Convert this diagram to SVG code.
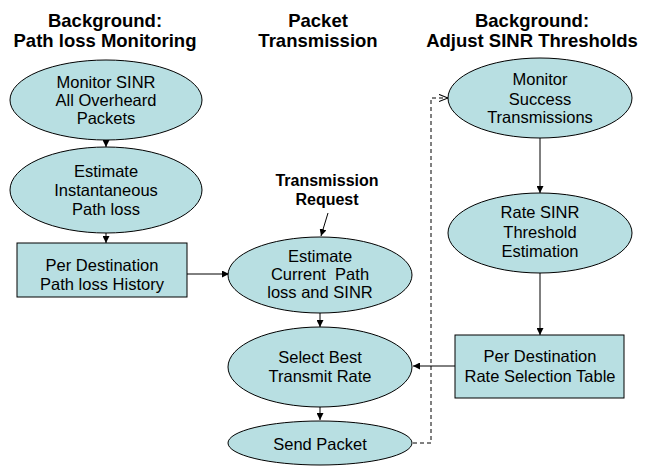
<svg xmlns="http://www.w3.org/2000/svg" width="651" height="466" viewBox="0 0 651 466">
  <style>
    .node { fill: #b8dfe2; stroke: #000; stroke-width: 1; }
    .lbl { font-family: "Liberation Sans", Arial, sans-serif; font-size: 16.5px; fill: #000; text-anchor: middle; }
    .hdr { font-family: "Liberation Sans", Arial, sans-serif; font-size: 18.5px; font-weight: bold; fill: #000; text-anchor: middle; }
    .req { font-family: "Liberation Sans", Arial, sans-serif; font-size: 16px; font-weight: bold; fill: #000; text-anchor: middle; }
    .edge { fill: none; stroke: #000; stroke-width: 1; }
    .dash { fill: none; stroke: #000; stroke-width: 1; stroke-dasharray: 4 3; }
  </style>
  <defs>
    <marker id="arrow" viewBox="0 0 10 10" refX="10" refY="5" markerWidth="7" markerHeight="7" orient="auto" markerUnits="userSpaceOnUse">
      <path d="M0,0 L10,5 L0,10 z" fill="#000"/>
    </marker>
    <marker id="open" viewBox="0 0 10 10" refX="10" refY="5" markerWidth="9" markerHeight="9" orient="auto" markerUnits="userSpaceOnUse">
      <path d="M0,1 L10,5 L0,9" fill="none" stroke="#000" stroke-width="1.2"/>
    </marker>
  </defs>

  <!-- column headings -->
  <g id="headings">
    <text class="hdr" x="105" y="27">Background:</text>
    <text class="hdr" x="105" y="47">Path loss Monitoring</text>
    <text class="hdr" x="318" y="27">Packet</text>
    <text class="hdr" x="318" y="47">Transmission</text>
    <text class="hdr" x="532" y="27">Background:</text>
    <text class="hdr" x="532" y="47">Adjust SINR Thresholds</text>
  </g>

  <!-- connectors -->
  <g id="connectors">
    <line class="edge" x1="106" y1="140" x2="106" y2="147" marker-end="url(#arrow)"/>
    <line class="edge" x1="106" y1="233" x2="106" y2="243" marker-end="url(#arrow)"/>
    <line class="edge" x1="187" y1="274" x2="229" y2="274" marker-end="url(#arrow)"/>
    <line class="edge" x1="328" y1="213" x2="321" y2="236" marker-end="url(#arrow)"/>
    <line class="edge" x1="320" y1="313" x2="320" y2="327" marker-end="url(#arrow)"/>
    <line class="edge" x1="320" y1="407" x2="320" y2="420" marker-end="url(#arrow)"/>
    <line class="edge" x1="540" y1="137" x2="540" y2="193" marker-end="url(#arrow)"/>
    <line class="edge" x1="540" y1="273" x2="540" y2="335" marker-end="url(#arrow)"/>
    <line class="edge" x1="455" y1="366" x2="413" y2="366" marker-end="url(#arrow)"/>
    <path class="dash" d="M413,443 H431 V98 H448" marker-end="url(#open)"/>
  </g>

  <!-- left column -->
  <g id="monitor-sinr">
    <ellipse class="node" cx="106" cy="100" rx="96" ry="40"/>
    <text class="lbl" x="106" y="88">Monitor SINR</text>
    <text class="lbl" x="106" y="106">All Overheard</text>
    <text class="lbl" x="106" y="124">Packets</text>
  </g>
  <g id="estimate-instantaneous">
    <ellipse class="node" cx="106" cy="190" rx="96" ry="43"/>
    <text class="lbl" x="106" y="177">Estimate</text>
    <text class="lbl" x="106" y="196">Instantaneous</text>
    <text class="lbl" x="106" y="215">Path loss</text>
  </g>
  <g id="pathloss-history">
    <rect class="node" x="17" y="243" width="170" height="54"/>
    <text class="lbl" x="102" y="271">Per Destination</text>
    <text class="lbl" x="102" y="290">Path loss History</text>
  </g>

  <!-- middle column -->
  <g id="transmission-request">
    <text class="req" x="327" y="186">Transmission</text>
    <text class="req" x="327" y="205">Request</text>
  </g>
  <g id="estimate-current">
    <ellipse class="node" cx="320" cy="275" rx="92" ry="38"/>
    <text class="lbl" x="320" y="262">Estimate</text>
    <text class="lbl" x="320" y="280" xml:space="preserve">Current  Path</text>
    <text class="lbl" x="320" y="298">loss and SINR</text>
  </g>
  <g id="select-rate">
    <ellipse class="node" cx="320" cy="367" rx="92" ry="40"/>
    <text class="lbl" x="320" y="363">Select Best</text>
    <text class="lbl" x="320" y="382">Transmit Rate</text>
  </g>
  <g id="send-packet">
    <ellipse class="node" cx="320" cy="443" rx="92" ry="22"/>
    <text class="lbl" x="320" y="450">Send Packet</text>
  </g>

  <!-- right column -->
  <g id="monitor-success">
    <ellipse class="node" cx="540" cy="98" rx="92" ry="40"/>
    <text class="lbl" x="540" y="85">Monitor</text>
    <text class="lbl" x="540" y="105">Success</text>
    <text class="lbl" x="540" y="123">Transmissions</text>
  </g>
  <g id="threshold-estimation">
    <ellipse class="node" cx="540" cy="233" rx="92" ry="40"/>
    <text class="lbl" x="540" y="218">Rate SINR</text>
    <text class="lbl" x="540" y="238">Threshold</text>
    <text class="lbl" x="540" y="257">Estimation</text>
  </g>
  <g id="rate-table">
    <rect class="node" x="455" y="335" width="169" height="63"/>
    <text class="lbl" x="540" y="362">Per Destination</text>
    <text class="lbl" x="540" y="382">Rate Selection Table</text>
  </g>
</svg>
